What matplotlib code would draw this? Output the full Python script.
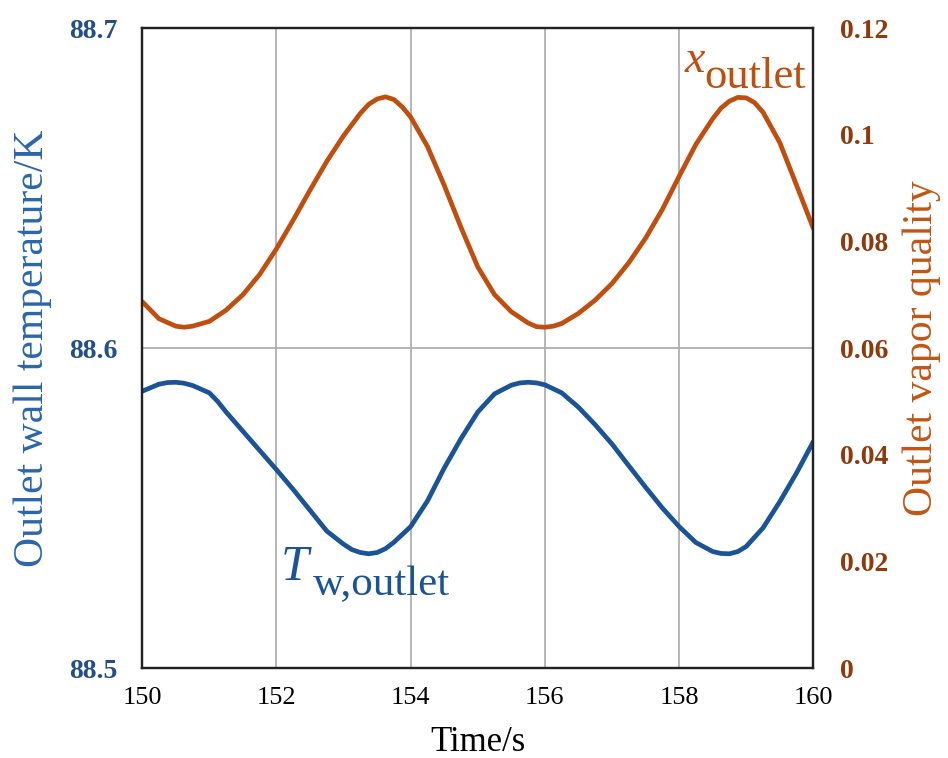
import matplotlib
matplotlib.use("Agg")
import matplotlib.pyplot as plt

time_wall = [150.00, 150.25, 150.375, 150.50, 150.625, 150.75, 151.00, 151.125, 151.25,
             151.50, 151.75, 152.00, 152.25, 152.50, 152.75, 153.00, 153.125, 153.25,
             153.375, 153.50, 153.625, 153.75, 154.00, 154.25, 154.50, 154.75, 155.00,
             155.25, 155.50, 155.625, 155.75, 155.875, 156.00, 156.25, 156.50, 156.75,
             157.00, 157.25, 157.50, 157.75, 158.00, 158.25, 158.50, 158.625, 158.75,
             158.875, 159.00, 159.25, 159.50, 159.75, 160.00]

wall_temp_K = [88.5865, 88.5887, 88.5892, 88.5893, 88.5890, 88.5883, 88.5860, 88.5833, 88.5800,
               88.5740, 88.5680, 88.5620, 88.5558, 88.5493, 88.5428, 88.5387, 88.5370, 88.5361,
               88.5357, 88.5361, 88.5373, 88.5393, 88.5442, 88.5522, 88.5625, 88.5717, 88.5800,
               88.5857, 88.5884, 88.5891, 88.5893, 88.5891, 88.5885, 88.5860, 88.5815, 88.5760,
               88.5700, 88.5632, 88.5565, 88.5500, 88.5442, 88.5392, 88.5364, 88.5358, 88.5357,
               88.5364, 88.5380, 88.5438, 88.5520, 88.5610, 88.5708]

time_quality = [150.00, 150.25, 150.50, 150.625, 150.75, 151.00, 151.25, 151.50, 151.75,
                152.00, 152.25, 152.50, 152.75, 153.00, 153.25, 153.375, 153.50, 153.625,
                153.75, 153.875, 154.00, 154.25, 154.50, 154.75, 155.00, 155.25, 155.50,
                155.75, 155.875, 156.00, 156.125, 156.25, 156.50, 156.75, 157.00, 157.25,
                157.50, 157.75, 158.00, 158.25, 158.50, 158.625, 158.75, 158.875, 159.00,
                159.125, 159.25, 159.50, 159.75, 160.00]

vapor_quality = [0.0687, 0.0655, 0.0641, 0.0639, 0.0641, 0.0650, 0.0671, 0.0700, 0.0738,
                 0.0786, 0.0840, 0.0896, 0.0950, 0.0998, 0.1040, 0.1057, 0.1067, 0.1071,
                 0.1066, 0.1052, 0.1033, 0.0978, 0.0905, 0.0826, 0.0752, 0.0700, 0.0668,
                 0.0647, 0.0640, 0.0639, 0.0641, 0.0646, 0.0665, 0.0690, 0.0721, 0.0760,
                 0.0806, 0.0860, 0.0922, 0.0982, 0.1030, 0.1050, 0.1063, 0.1070, 0.1069,
                 0.1060, 0.1042, 0.0985, 0.0905, 0.0824]

x_ticks = [150, 152, 154, 156, 158, 160]
left_ticks = [88.5, 88.6, 88.7]
left_labels = ["88.5", "88.6", "88.7"]
right_ticks = [0, 0.02, 0.04, 0.06, 0.08, 0.1, 0.12]
right_labels = ["0", "0.02", "0.04", "0.06", "0.08", "0.1", "0.12"]

plt.rcParams['font.family'] = ['Liberation Serif', 'DejaVu Serif']

blue = '#1b5496'
orange = '#c04e0e'
blue_txt = '#234f86'
orange_txt = '#8e3a0c'

W, H = 948, 758
fig = plt.figure(figsize=(W / 100, H / 100), dpi=100)
ax = fig.add_axes([0.150, 0.1187, 0.708, 0.8443])
ax2 = ax.twinx()

ax.plot(time_wall, wall_temp_K, color=blue, lw=3.4, solid_joinstyle='round',
        solid_capstyle='round')
ax2.plot(time_quality, vapor_quality, color=orange, lw=3.4, solid_joinstyle='round',
         solid_capstyle='round')

ax.set_xlim(150, 160)
ax.set_ylim(88.5, 88.7)
ax2.set_ylim(0, 0.12)

ax.set_xticks(x_ticks)
ax.set_xticklabels([str(t) for t in x_ticks], fontsize=19)
ax.set_yticks(left_ticks)
ax.set_yticklabels(left_labels, fontsize=20, fontweight='bold', color=blue_txt)
ax2.set_yticks(right_ticks)
ax2.set_yticklabels(right_labels, fontsize=20, fontweight='bold', color=orange_txt)

ax.tick_params(axis='x', length=0, pad=14)
ax.tick_params(axis='y', length=0, pad=18)
ax2.tick_params(axis='y', length=0, pad=19)

ax.grid(True, color='#b0b0b0', lw=1.3)
ax.set_axisbelow(True)

for sp in list(ax.spines.values()) + list(ax2.spines.values()):
    sp.set_color('#222222')
    sp.set_linewidth(1.6)

ax.set_xlabel('Time/s', fontsize=25, labelpad=12)
ax.set_ylabel('Outlet wall temperature/K', fontsize=30, color='#2b66aa', labelpad=12)
ax2.set_ylabel('Outlet vapor quality', fontsize=30, color='#c25512', labelpad=10)

# annotations (pixel positions of the reference converted to figure fraction)
fig.text(685 / W, 1 - 72 / H, 'x', fontsize=33, style='italic', color=orange,
         ha='left', va='baseline')
fig.text(704 / W, 1 - 88 / H, 'outlet', fontsize=32, color=orange,
         ha='left', va='baseline')
fig.text(281 / W, 1 - 580 / H, 'T', fontsize=36, style='italic', color=blue,
         ha='left', va='baseline')
fig.text(313 / W, 1 - 595 / H, 'w,outlet', fontsize=31, color=blue,
         ha='left', va='baseline')

fig.savefig('out.png', dpi=100)
